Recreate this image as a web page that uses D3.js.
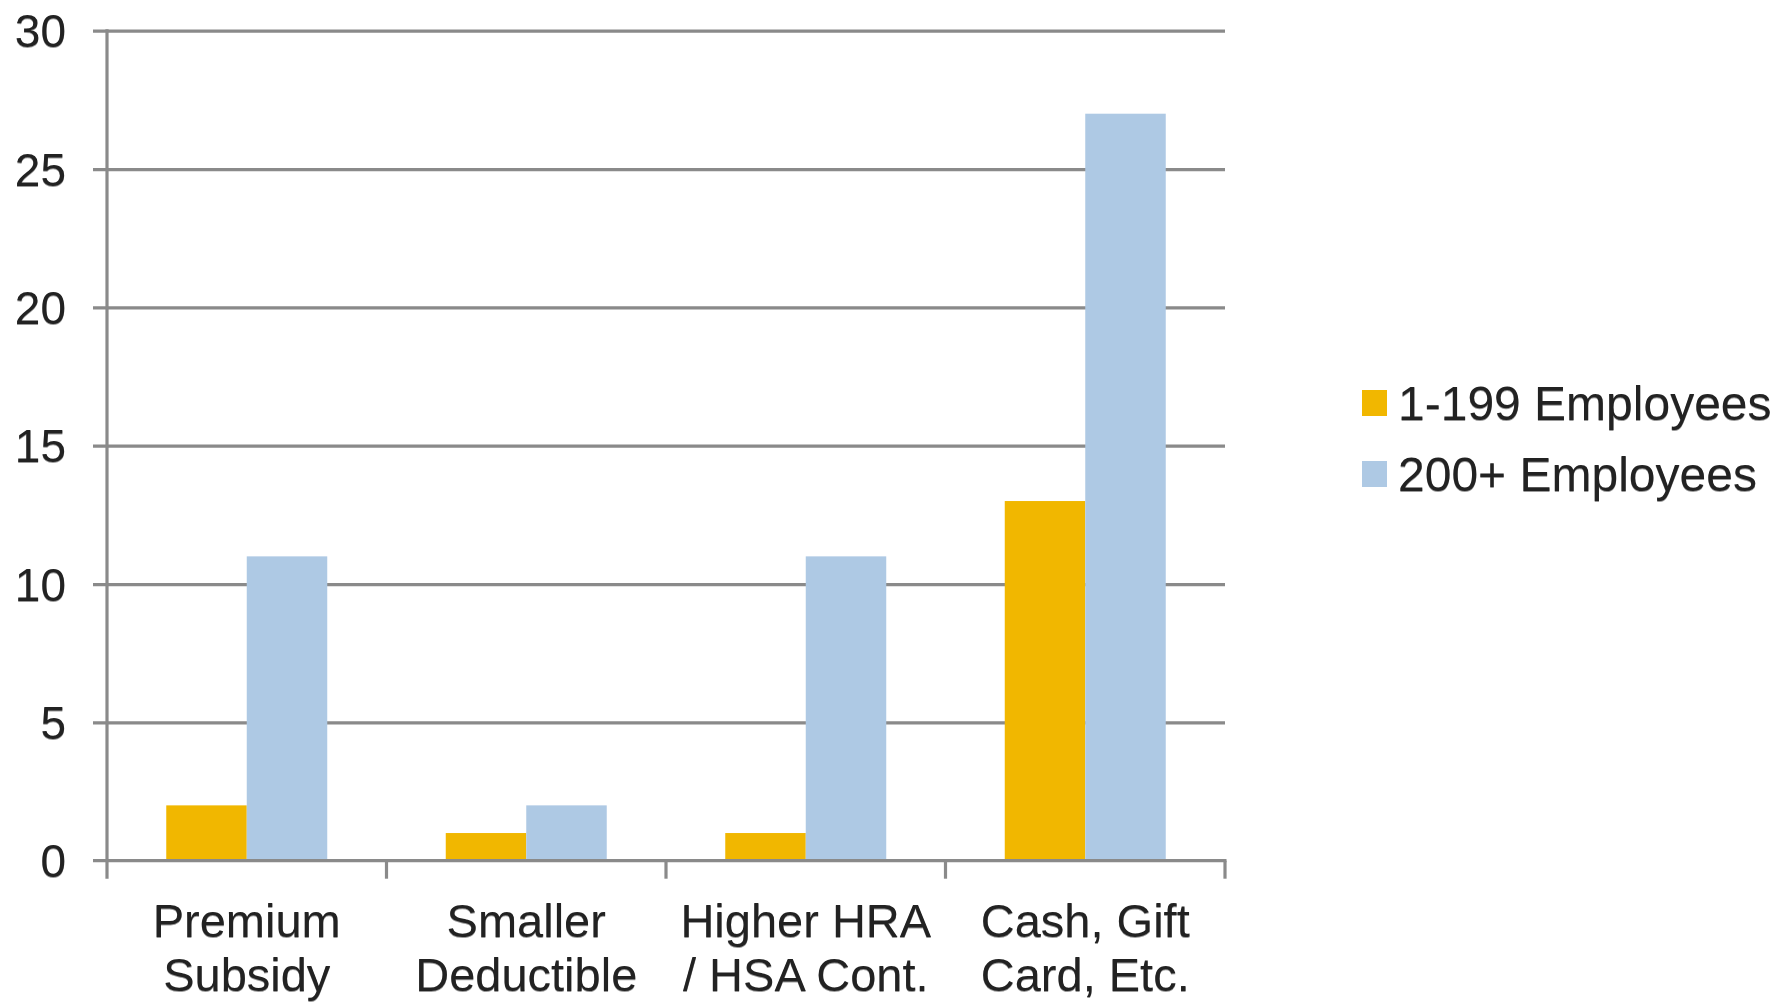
<!DOCTYPE html>
<html>
<head>
<meta charset="utf-8">
<script src="https://cdn.jsdelivr.net/npm/d3@7"></script>
<style>
  html, body { margin: 0; padding: 0; background: #fff; }
  svg { display: block; }
  text { font-family: "Liberation Sans", Arial, sans-serif; fill: #222; }
  text.label { filter: drop-shadow(0.5px 1.5px 0 #9a9a9a); }
</style>
</head>
<body>
<svg id="chart" width="1790" height="1003"></svg>
<script>
// Incentives offered, by firm size
const categories = [["Premium", "Subsidy"], ["Smaller", "Deductible"], ["Higher HRA", "/ HSA Cont."], ["Cash, Gift", "Card, Etc."]];
const seriesNames = ["1-199 Employees", "200+ Employees"];
const smallFirms = [2, 1, 1, 13];
const largeFirms = [11, 2, 11, 27];
const yTicks = [0, 5, 10, 15, 20, 25, 30];
const colors = ["#F1B700", "#AEC9E4"];

const svg = d3.select("#chart");
const plot = { left: 107, right: 1225, top: 30.7, bottom: 860.7 };
const axisColor = "#8a8a8a";

const y = d3.scaleLinear().domain([0, 30]).range([plot.bottom, plot.top]);
const x0 = d3.scaleBand().domain(d3.range(categories.length))
  .range([plot.left, plot.right]).paddingInner(0.424).paddingOuter(0.212);
const x1 = d3.scaleBand().domain(d3.range(seriesNames.length))
  .range([0, x0.bandwidth()]);
const xCat = d3.scaleBand().domain(d3.range(categories.length))
  .range([plot.left, plot.right]);

// horizontal gridlines, starting with a short stub left of the axis
const yAxis = d3.axisRight(y).tickValues(yTicks.filter(v => v > 0))
  .tickSize(plot.right - plot.left + 14).tickFormat("");
svg.append("g").attr("transform", `translate(${plot.left - 14},0)`)
  .call(yAxis)
  .call(g => g.select(".domain").remove())
  .call(g => g.selectAll("line").attr("stroke", axisColor).attr("stroke-width", 3.2));

// bars
const data = categories.map((c, i) => [smallFirms[i], largeFirms[i]]);
svg.append("g").selectAll("g").data(data).join("g")
  .attr("transform", (d, i) => `translate(${x0(i)},0)`)
  .selectAll("rect").data(d => d).join("rect")
  .attr("x", (d, j) => x1(j))
  .attr("width", x1.bandwidth())
  .attr("y", d => y(d))
  .attr("height", d => y(0) - y(d))
  .attr("fill", (d, j) => colors[j]);

// vertical axis line
svg.append("line")
  .attr("x1", plot.left).attr("x2", plot.left)
  .attr("y1", y(30) - 1.5).attr("y2", plot.bottom + 18)
  .attr("stroke", axisColor).attr("stroke-width", 3.2);

// baseline with category tick marks
const xAxis = d3.axisBottom(xCat).tickSize(0).tickFormat("");
svg.append("g").attr("transform", `translate(0,${y(0)})`)
  .call(xAxis)
  .call(g => g.selectAll(".tick").remove())
  .call(g => g.select(".domain").attr("stroke", axisColor).attr("stroke-width", 3.2)
    .attr("d", `M${plot.left - 14},0H${plot.right + 1.5}`));
const boundaries = d3.range(1, categories.length + 1).map(i => xCat(i - 1) + xCat.bandwidth());
svg.append("g").selectAll("line").data(boundaries).join("line")
  .attr("x1", d => d).attr("x2", d => d)
  .attr("y1", y(0)).attr("y2", y(0) + 18)
  .attr("stroke", axisColor).attr("stroke-width", 3.2);

// y tick labels
svg.append("g").selectAll("text").data(yTicks).join("text")
  .attr("class", "label")
  .attr("x", 66).attr("y", d => y(d))
  .attr("dy", "0.36em")
  .attr("text-anchor", "end")
  .style("font-size", "46px")
  .text(d => d);

// category labels (two lines each)
const catLabels = svg.append("g").selectAll("text").data(categories).join("text")
  .attr("class", "label")
  .attr("text-anchor", "middle")
  .style("font-size", "47px")
  .attr("transform", (d, i) => `translate(${xCat(i) + xCat.bandwidth() / 2},937)`);
catLabels.selectAll("tspan").data(d => d).join("tspan")
  .attr("x", 0).attr("y", (d, k) => k * 54)
  .text(d => d);

// legend
const legend = svg.append("g").selectAll("g").data(seriesNames).join("g")
  .attr("transform", (d, i) => `translate(1362,${390 + i * 71})`);
legend.append("rect").attr("width", 25).attr("height", 26)
  .attr("fill", (d, i) => colors[i]);
legend.append("text").attr("class", "label").attr("x", 36).attr("y", 30)
  .style("font-size", "48px")
  .text(d => d);
</script>
</body>
</html>
